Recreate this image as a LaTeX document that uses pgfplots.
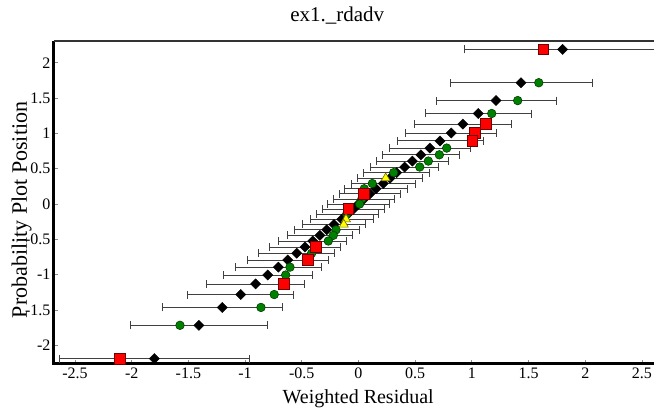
\documentclass[border=0pt]{standalone}
\usepackage{fontspec}
\setmainfont{Liberation Serif}
\usepackage{pgfplots}
\pgfplotsset{compat=1.18}

\definecolor{gfill}{RGB}{0,128,0}
\definecolor{gedge}{RGB}{0,60,0}
\definecolor{rfill}{RGB}{255,0,0}
\definecolor{redge}{RGB}{110,0,0}
\definecolor{yfill}{RGB}{255,255,0}
\definecolor{yedge}{RGB}{110,110,0}

% expected positions (diamonds) with half-width of the interval
\pgfplotstableread{
x      y       ex
1.800  2.189   0.864
1.433  1.718   0.626
1.213  1.465   0.530
1.056  1.282   0.470
0.921  1.132   0.430
0.818  1.006   0.400
0.719  0.894   0.380
0.630  0.792   0.353
0.550  0.697   0.340
0.475  0.608   0.318
0.407  0.524   0.302
0.337  0.444   0.290
0.278  0.366   0.285
0.219  0.290   0.280
0.154  0.216   0.276
0.101  0.144   0.273
0.050  0.072   0.271
0.000  0.000   0.270
-0.045 -0.072  0.271
-0.095 -0.144  0.273
-0.148 -0.216  0.276
-0.216 -0.290  0.280
-0.280 -0.366  0.285
-0.340 -0.444  0.290
-0.404 -0.524  0.300
-0.472 -0.608  0.316
-0.545 -0.697  0.335
-0.624 -0.792  0.359
-0.707 -0.894  0.376
-0.800 -1.006  0.390
-0.907 -1.132  0.433
-1.039 -1.282  0.468
-1.201 -1.465  0.530
-1.407 -1.718  0.607
-1.800 -2.189  0.840
}\expected

\begin{document}
\begin{tikzpicture}
\begin{axis}[
    name=ax,
    scale only axis,
    width=600pt, height=323pt,
    xmin=-2.685, xmax=2.606,
    ymin=-2.266, ymax=2.309,
    xtick={-2.5,-2,-1.5,-1,-0.5,0,0.5,1,1.5,2,2.5},
    xticklabels={-2.5,-2,-1.5,-1,-0.5,0,0.5,1,1.5,2,2.5},
    ytick={-2,-1.5,-1,-0.5,0,0.5,1,1.5,2},
    yticklabels={-2,-1.5,-1,-0.5,0,0.5,1,1.5,2},
    tick pos=left,
    tick align=inside,
    major tick length=4pt,
    tick style={black!45, line width=0.8pt},
    tick label style={font=\fontsize{16}{18}\selectfont},
    axis line style={draw=none},
    clip mode=individual,
    title={ex1.\_rdadv},
    title style={at={([yshift=13pt]rel axis cs:0.472,1)}, anchor=base,
                 font=\fontsize{21}{24}\selectfont},
    xlabel={Weighted Residual},
    xlabel style={at={([yshift=-40pt]rel axis cs:0.507,0)}, anchor=base,
                  font=\fontsize{20}{23}\selectfont},
    ylabel={Probability Plot Position},
    ylabel style={at={([xshift=-27pt]rel axis cs:0,0.477)}, anchor=base,
                  font=\fontsize{22}{25}\selectfont},
  ]

  % frame: heavy left and bottom, light top
  \draw[line width=3pt] (rel axis cs:0,1) -- (rel axis cs:0,0) -- (rel axis cs:1,0);
  \draw[line width=1.3pt, black!80] (rel axis cs:0,1) -- (rel axis cs:1,1);

  % diamonds with horizontal intervals
  \addplot[only marks, mark=square*, mark size=3.6pt,
           mark options={rotate=45, fill=black, draw=black},
           error bars/.cd, x dir=both, x explicit,
           error bar style={line width=0.8pt, black!75},
           error mark options={rotate=90, line width=0.8pt, black!75, mark size=4pt}]
    table[x=x, y=y, x error=ex] {\expected};

  % green residuals
  \addplot[only marks, mark=*, mark size=4.3pt,
           mark options={fill=gfill, draw=gedge, line width=0.6pt}]
    coordinates {
      (1.590,1.718) (1.404,1.465) (1.175,1.282) (0.778,0.792) (0.713,0.697)
      (0.616,0.608) (0.540,0.524) (0.310,0.444) (0.122,0.290) (0.051,0.216)
      (0.030,0.072) (0.010,0.000) (-0.104,-0.144) (-0.198,-0.366) (-0.222,-0.444)
      (-0.266,-0.524) (-0.413,-0.697) (-0.604,-0.894) (-0.642,-1.006)
      (-0.743,-1.282) (-0.860,-1.465) (-1.574,-1.718)
    };

  % red residuals
  \addplot[only marks, mark=square*, mark size=5.3pt,
           mark options={fill=rfill, draw=redge, line width=0.7pt}]
    coordinates {
      (1.630,2.189) (1.124,1.132) (1.027,1.006) (1.004,0.894) (0.046,0.144)
      (-0.090,-0.072) (-0.375,-0.608) (-0.448,-0.792) (-0.657,-1.132) (-2.103,-2.189)
    };

  % yellow residuals
  \addplot[only marks, mark=triangle*, mark size=5.2pt,
           mark options={fill=yfill, draw=yedge, line width=0.6pt}]
    coordinates {
      (0.240,0.366) (-0.110,-0.216) (-0.130,-0.290)
    };
\end{axis}
\pgfresetboundingbox
\path[use as bounding box] ([xshift=-54pt,yshift=-47pt]ax.south west)
  rectangle ([yshift=41pt]ax.north east);
\end{tikzpicture}
\end{document}
